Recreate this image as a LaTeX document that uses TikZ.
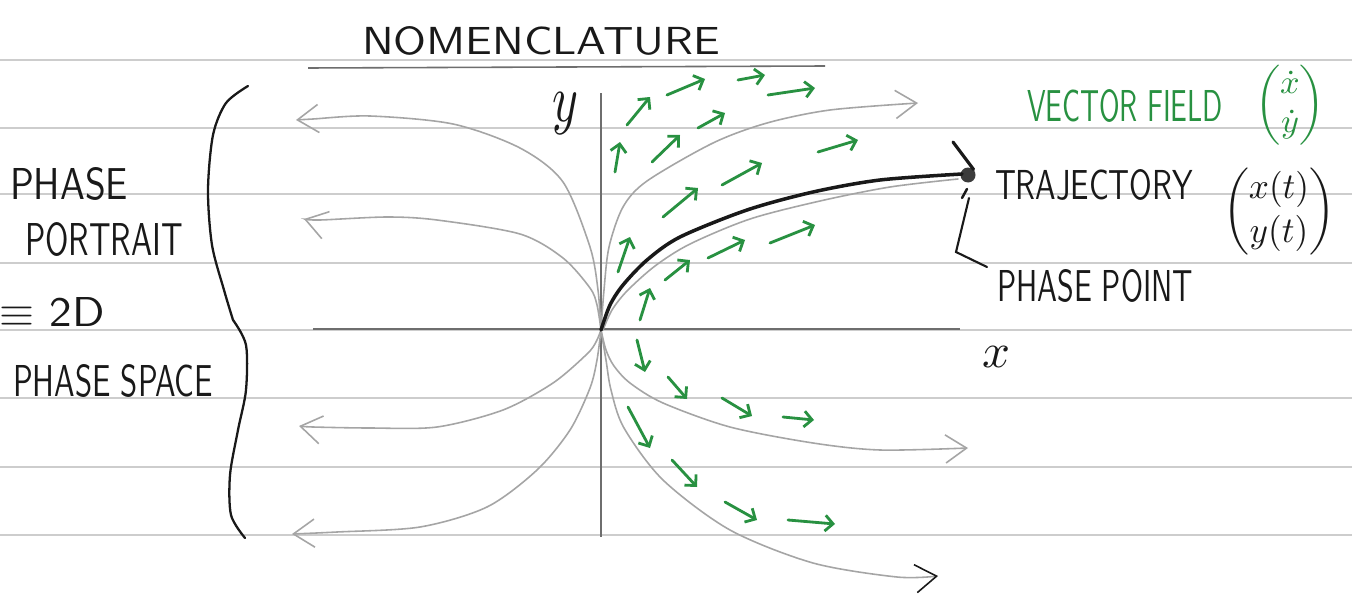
\documentclass[tikz,border=0pt]{standalone}
\usepackage{amsmath}
\usepackage{graphicx}
\usetikzlibrary{arrows.meta}
\definecolor{ink}{RGB}{25,25,25}
\definecolor{pen}{RGB}{40,145,65}
\definecolor{ruleclr}{RGB}{205,205,205}
\definecolor{pencil}{RGB}{165,165,165}
\definecolor{axisclr}{RGB}{110,110,110}
\newcommand\hw[3]{\resizebox{#1}{#2}{\sffamily #3}}
\begin{document}
\begin{tikzpicture}[x=0.02cm,y=-0.02cm,
  ruling/.style={ruleclr,line width=0.8pt},
  pcurve/.style={pencil,line width=0.9pt,line cap=round},
  barb/.style={-{Straight Barb[length=12pt,width=16pt,line width=0.9pt]}},
  vf/.style={pen,line width=1.6pt,line cap=round,-{Straight Barb[length=4.5pt,width=9pt]}},
  lbl/.style={inner sep=0pt,text=ink},
]
\fill[white] (0,0) rectangle (1352,595);
\useasboundingbox (0,0) rectangle (1352,595);

% ruled paper
\foreach \yy in {60,128,194,263,330,398,467,535}
  \draw[ruling] (0,\yy) -- (1352,\yy);

% title
\node[lbl] (title) at (541,41) {\hw{7.16cm}{0.56cm}{NOMENCLATURE}};
\coordinate (ulA) at (308,68);
\coordinate (ulB) at (825,66);
\draw[axisclr,line width=0.9pt] (ulA) -- (ulB);

% left labels
\node[lbl] (phase1) at (69,184) {\hw{2.36cm}{0.64cm}{PHASE}};
\node[lbl] (portrait) at (104,240) {\hw{3.16cm}{0.66cm}{PORTRAIT}};
\node[lbl] (equiv) at (52,312) {\hw{2.1cm}{0.58cm}{$\equiv$ 2D}};
\node[lbl] (pspace) at (113,381) {\hw{4.0cm}{0.64cm}{PHASE SPACE}};

% brace
\draw[ink,line width=1.3pt,line cap=round]
  plot[smooth] coordinates {(248,86) (226,103) (213,135) (208,190) (212,245) (224,290) (233,320)};
\draw[ink,line width=1.3pt,line cap=round]
  plot[smooth] coordinates {(233,320) (246,345) (246,390) (238,430) (230,475) (231,515) (245,538)};

% axes
\coordinate (O) at (601,330);
\coordinate (ytop) at (601,93);
\coordinate (ybot) at (601,537);
\coordinate (xl) at (313,329);
\coordinate (xr) at (960,329);
\draw[axisclr,line width=1pt] (ytop) -- (ybot);
\draw[axisclr,line width=1pt] (xl) -- (xr);
\node[lbl] (ylab) at (565,114) {\resizebox*{0.52cm}{0.84cm}{$y$}};
\node[lbl] (xlab) at (996,357) {\resizebox*{0.56cm}{0.42cm}{$x$}};

% pencil trajectories
\draw[pcurve,barb] plot[smooth] coordinates {(601,330) (604,290) (609,247) (623,207) (647,181) (713,143) (767,123) (830,110) (918,103)};
\draw[pcurve] plot[smooth] coordinates {(603,330) (612,310) (627,291) (655,266) (690,244) (750,219) (820,201) (890,187) (958,179)};
\draw[pcurve,barb] plot[smooth] coordinates {(601,330) (606,350) (614,366) (630,383) (663,403) (730,427) (813,443) (880,450) (968,448)};
\draw[pcurve,-{Straight Barb[length=12pt,width=16pt,line width=0.9pt,color=ink]}] plot[smooth] coordinates {(601,330) (606,360) (611,390) (624,428) (663,480) (730,530) (813,563) (897,577) (938,576)};
\draw[pcurve,barb] plot[smooth] coordinates {(601,330) (598,290) (590,247) (563,182) (520,148) (453,124) (370,116) (313,119) (296,120)};
\draw[pcurve,barb] plot[smooth] coordinates {(601,330) (597,305) (590,288) (563,258) (520,234) (437,220) (387,217) (320,220) (304,219)};
\draw[pcurve,barb] plot[smooth] coordinates {(601,330) (596,342) (587,354) (553,383) (503,410) (437,427) (370,428) (313,427) (299,426)};
\draw[pcurve,barb] plot[smooth] coordinates {(601,330) (597,360) (590,388) (570,430) (537,470) (487,507) (420,527) (337,532) (292,534)};

% highlighted trajectory and phase point
\node[circle,fill=ink!85,inner sep=0pt,minimum size=0.3cm] (pp) at (968,175) {};
\draw[ink,line width=2pt,line cap=round] plot[smooth] coordinates {(601,330) (610,305) (623,285) (647,260) (680,237) (747,210) (813,192) (880,180) (962,174)};
\coordinate (headA) at (953,142);
\coordinate (tickA) at (962,198);
\coordinate (tickB) at (967,189);
\draw[ink,line width=1.8pt,line cap=round] (headA) -- (pp.north east);
\draw[ink,line width=1.4pt,line cap=round] (tickA) -- (tickB);
\coordinate (ptrA) at (969,198);
\coordinate (ptrB) at (956,252);
\coordinate (ptrC) at (987,267);
\draw[ink,line width=1.2pt,line cap=round] (ptrA) -- (ptrB) -- (ptrC);

% right labels
\node[lbl,text=pen] (vfield) at (1125,106) {\hw{3.92cm}{0.64cm}{VECTOR FIELD}};
\node[lbl,text=pen] (vvec) at (1290,105) {\resizebox*{1.4cm}{1.6cm}{$\begin{pmatrix}\dot x\\ \dot y\end{pmatrix}$}};
\node[lbl] (traj) at (1094,185) {\hw{3.96cm}{0.6cm}{TRAJECTORY}};
\node[lbl] (xyt) at (1279,212) {\resizebox*{2.24cm}{1.74cm}{$\begin{pmatrix}x(t)\\ y(t)\end{pmatrix}$}};
\node[lbl] (ppl) at (1095,286) {\hw{3.92cm}{0.64cm}{PHASE POINT}};

% vector field arrows
\foreach \sx/\sy/\ex/\ey in {
  627/125/650/97, 667/95/705/79, 738/80/765/75, 768/95/815/88,
  615/172/620/142, 652/162/680/135, 698/128/725/113, 818/152/858/140,
  663/217/698/188, 722/185/762/163, 618/272/630/237, 665/280/690/260,
  708/258/745/240, 770/243/815/225, 640/320/650/288,
  637/340/645/372, 668/377/687/399, 722/398/752/416, 783/417/814/420,
  628/407/650/448, 672/460/697/487, 725/502/757/520, 788/520/835/524}
  \draw[vf] (\sx,\sy) -- (\ex,\ey);
\end{tikzpicture}
\end{document}
